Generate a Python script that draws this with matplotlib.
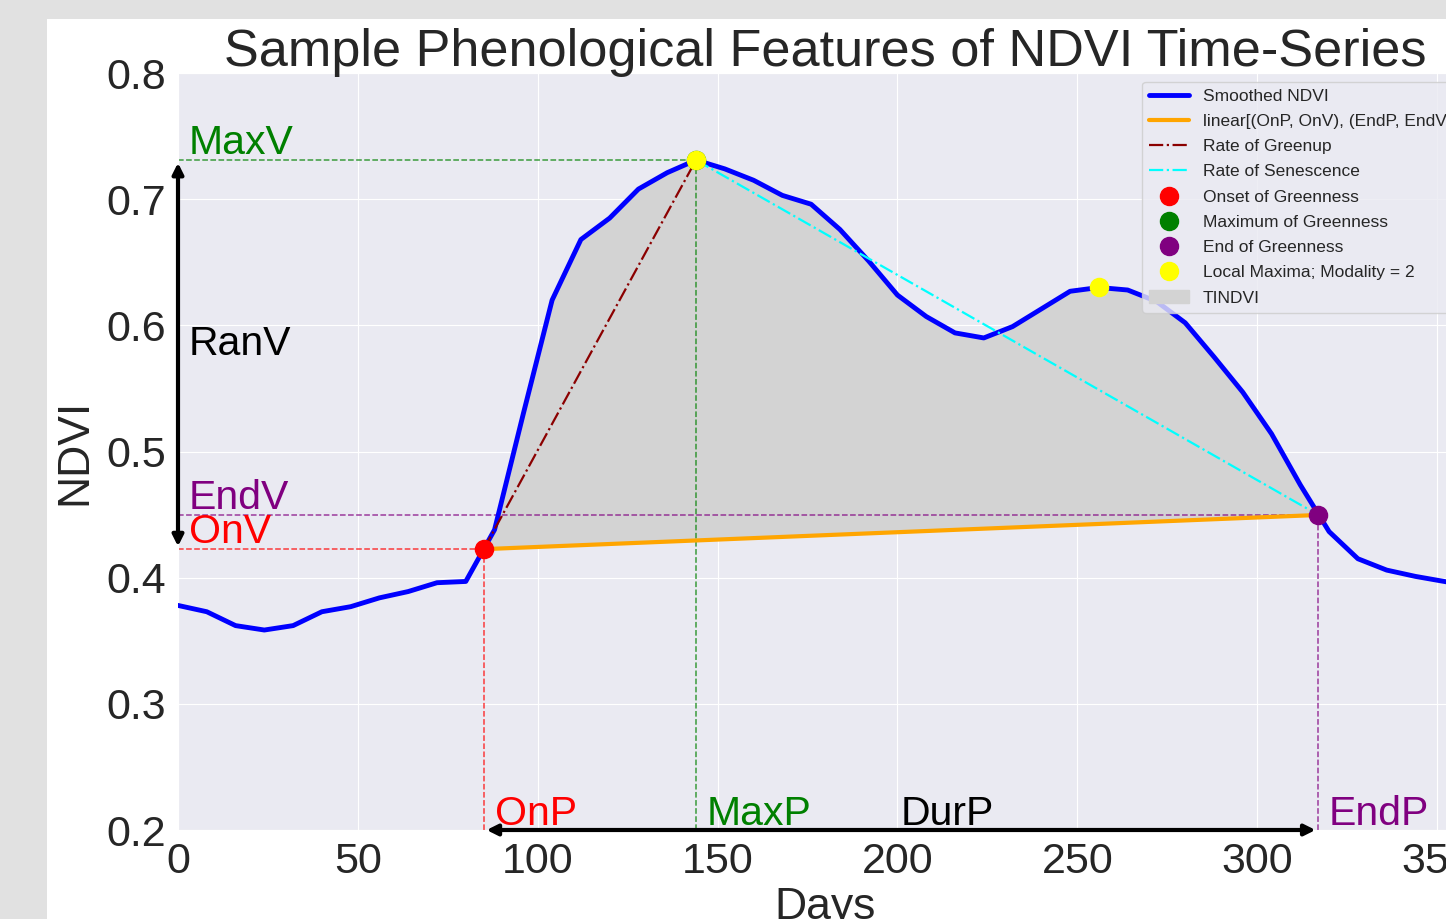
import numpy as np
import matplotlib
matplotlib.use("Agg")
import matplotlib.pyplot as plt
import matplotlib.patches as mpatches
from matplotlib.lines import Line2D
import seaborn as sns

# smoothed NDVI, 8-day composites
days = [0, 8, 16, 24, 32, 40, 48, 56, 64, 72, 80, 88, 96, 104, 112, 120,
        128, 136, 144, 152, 160, 168, 176, 184, 192, 200, 208, 216, 224,
        232, 240, 248, 256, 264, 272, 280, 288, 296, 304, 312, 320, 328,
        336, 344, 352, 360]
ndvi = [0.378, 0.373, 0.362, 0.3585, 0.362, 0.373, 0.377, 0.384, 0.389,
        0.396, 0.397, 0.438, 0.530, 0.620, 0.668, 0.685, 0.708, 0.721,
        0.731, 0.724, 0.715, 0.703, 0.696, 0.676, 0.651, 0.624, 0.607,
        0.594, 0.590, 0.599, 0.613, 0.627, 0.630, 0.628, 0.619, 0.602,
        0.575, 0.547, 0.514, 0.4735, 0.4365, 0.415, 0.406, 0.401, 0.397,
        0.393]

# phenological metrics
onset_day, onset_val = 85, 0.4226
max_day, max_val = 144, 0.731
end_day, end_val = 317, 0.4497
peak_days = [144, 256]
peak_vals = [0.731, 0.630]

sns.set_style("darkgrid")
plt.rcParams['font.family'] = ['Liberation Sans', 'DejaVu Sans']

W, H = 1446, 919
fig = plt.figure(figsize=(W / 100, H / 100), dpi=100)
fig.patch.set_facecolor('#e1e1e1')
fig.add_artist(mpatches.Rectangle((47 / W, 0), 1, 1 - 19 / H, transform=fig.transFigure,
                                  facecolor='white', edgecolor='none', zorder=-10))
ax = fig.add_axes([178 / W, 89 / H, 1295 / W, 757 / H])

# TINDVI area between curve and base line
x_fill = [onset_day] + [d for d in days if onset_day < d < end_day] + [end_day]
y_fill = np.interp(x_fill, days, ndvi)
y_fill[0], y_fill[-1] = onset_val, end_val
y_base = np.interp(x_fill, [onset_day, end_day], [onset_val, end_val])
ax.fill_between(x_fill, y_fill, y_base, color='lightgray', zorder=1)

ax.plot(days, ndvi, color='blue', lw=3.5, zorder=3)
ax.plot([onset_day, end_day], [onset_val, end_val], color='orange', lw=3, zorder=3)
ax.plot([onset_day, max_day], [onset_val, max_val], color='darkred', ls='-.', lw=1.6, zorder=3)
ax.plot([max_day, end_day], [max_val, end_val], color='cyan', ls='-.', lw=1.6, zorder=3)

# guide lines
ax.hlines(onset_val, 0, onset_day, colors='red', linestyles='--', lw=1.1, alpha=0.75, zorder=2)
ax.vlines(onset_day, 0.2, onset_val, colors='red', linestyles='--', lw=1.1, alpha=0.75, zorder=2)
ax.hlines(max_val, 0, max_day, colors='green', linestyles='--', lw=1.1, alpha=0.75, zorder=2)
ax.vlines(max_day, 0.2, max_val, colors='green', linestyles='--', lw=1.1, alpha=0.75, zorder=2)
ax.hlines(end_val, 0, end_day, colors='purple', linestyles='--', lw=1.1, alpha=0.75, zorder=2)
ax.vlines(end_day, 0.2, end_val, colors='purple', linestyles='--', lw=1.1, alpha=0.75, zorder=2)

ax.scatter([onset_day], [onset_val], color='red', s=170, zorder=5)
ax.scatter([max_day], [max_val], color='green', s=170, zorder=5)
ax.scatter([end_day], [end_val], color='purple', s=170, zorder=5)
ax.scatter(peak_days, peak_vals, color='yellow', s=170, zorder=6)

# range and duration arrows
arrow = dict(arrowstyle='<|-|>', color='black', lw=3, mutation_scale=16)
ax.annotate('', xy=(0, max_val), xytext=(0, onset_val), arrowprops=arrow, annotation_clip=False)
ax.annotate('', xy=(end_day, 0.2), xytext=(onset_day, 0.2), arrowprops=arrow, annotation_clip=False)

fs = 29.5
ax.text(3, max_val + 0.005, 'MaxV', color='green', fontsize=fs, va='baseline')
ax.text(3, (onset_val + max_val) / 2, 'RanV', color='black', fontsize=fs, va='baseline')
ax.text(3, end_val + 0.005, 'EndV', color='purple', fontsize=fs, va='baseline')
ax.text(3, onset_val + 0.005, 'OnV', color='red', fontsize=fs, va='baseline')
ax.text(onset_day + 3, 0.204, 'OnP', color='red', fontsize=fs, va='baseline')
ax.text(max_day + 3, 0.204, 'MaxP', color='green', fontsize=fs, va='baseline')
ax.text((onset_day + end_day) / 2, 0.204, 'DurP', color='black', fontsize=fs, va='baseline')
ax.text(end_day + 3, 0.204, 'EndP', color='purple', fontsize=fs, va='baseline')

ax.set_xlim(0, 360)
ax.set_ylim(0.2, 0.8)
ax.set_xticks(range(0, 361, 50))
ax.set_yticks(np.arange(0.2, 0.81, 0.1))
ax.set_yticklabels([f"{t:.1f}" for t in np.arange(0.2, 0.81, 0.1)])
ax.tick_params(labelsize=31)
ax.tick_params(axis='y', pad=5)
ax.tick_params(axis='x', pad=5)
ax.set_xlabel('Days', fontsize=32)
ax.set_ylabel('NDVI', fontsize=32, labelpad=8)
ax.set_title('Sample Phenological Features of NDVI Time-Series', fontsize=37.6, pad=5)

handles = [
    Line2D([], [], color='blue', lw=3.5, label='Smoothed NDVI'),
    Line2D([], [], color='orange', lw=3, label='linear[(OnP, OnV), (EndP, EndV)]'),
    Line2D([], [], color='darkred', ls='-.', lw=1.6, label='Rate of Greenup'),
    Line2D([], [], color='cyan', ls='-.', lw=1.6, label='Rate of Senescence'),
    Line2D([], [], color='red', marker='o', ls='', markersize=13, label='Onset of Greenness'),
    Line2D([], [], color='green', marker='o', ls='', markersize=13, label='Maximum of Greenness'),
    Line2D([], [], color='purple', marker='o', ls='', markersize=13, label='End of Greenness'),
    Line2D([], [], color='yellow', marker='o', ls='', markersize=13, label='Local Maxima; Modality = 2'),
    mpatches.Patch(color='lightgray', label='TINDVI'),
]
ax.legend(handles=handles, loc='upper right', fontsize=12.5, labelspacing=0.58,
          handlelength=2.3)

fig.savefig('out.png', dpi=100)
